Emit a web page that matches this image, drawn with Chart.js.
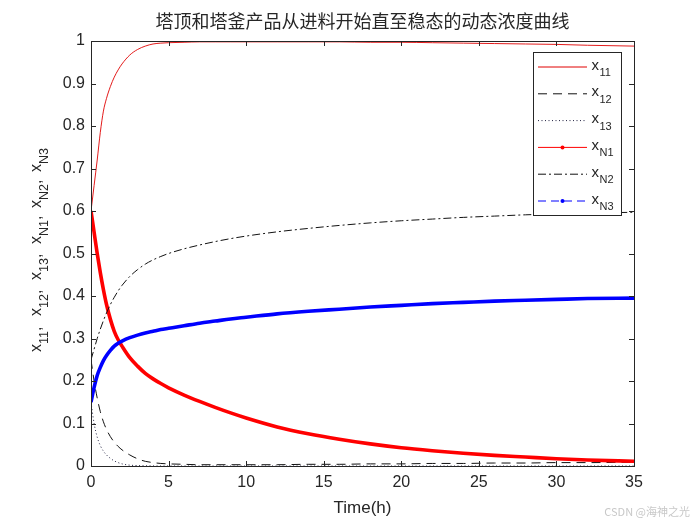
<!DOCTYPE html>
<html>
<head>
<meta charset="utf-8">
<script src="https://cdn.jsdelivr.net/npm/chart.js@4.4.1/dist/chart.umd.min.js"></script>
<style>
  html, body { margin: 0; padding: 0; background: #fff; }
  #wrap { width: 700px; height: 525px; position: relative; }
</style>
</head>
<body>
<div id="wrap"><canvas id="conc-chart" width="700" height="525"></canvas></div>
<script>
  // time axis (hours) and concentrations
  const timeH = [0, 0.2, 0.4, 0.6, 0.8, 1, 1.25, 1.5, 1.75, 2, 2.5, 3, 3.5, 4, 4.5, 5,
    6, 7, 8, 9, 10, 12, 14, 16, 18, 20, 22, 24, 26, 28, 30, 32, 35];

  const x11 = [0.600, 0.660, 0.720, 0.785, 0.835, 0.865, 0.893, 0.915, 0.932, 0.946, 0.967,
    0.980, 0.988, 0.993, 0.995, 0.996, 0.997, 0.998, 0.998, 0.998, 0.998, 0.998, 0.998,
    0.998, 0.997, 0.997, 0.996, 0.995, 0.994, 0.993, 0.992, 0.990, 0.988];
  const x12 = [0.250, 0.200, 0.160, 0.128, 0.104, 0.086, 0.069, 0.056, 0.046, 0.038, 0.026,
    0.017, 0.011, 0.008, 0.006, 0.005, 0.004, 0.003, 0.003, 0.003, 0.003, 0.003, 0.004,
    0.004, 0.005, 0.005, 0.006, 0.006, 0.007, 0.007, 0.008, 0.008, 0.009];
  const x13 = [0.150, 0.100, 0.068, 0.048, 0.035, 0.026, 0.018, 0.012, 0.008, 0.005, 0.002,
    0.001, 0.0005, 0.0002, 0.0001, 0, 0, 0, 0, 0, 0, 0, 0, 0, 0, 0, 0, 0, 0, 0, 0, 0, 0];
  const xN1 = [0.600, 0.550, 0.500, 0.455, 0.415, 0.380, 0.345, 0.317, 0.297, 0.282, 0.255,
    0.235, 0.218, 0.205, 0.194, 0.184, 0.167, 0.152, 0.138, 0.125, 0.113, 0.092, 0.076,
    0.063, 0.052, 0.043, 0.036, 0.030, 0.025, 0.021, 0.017, 0.014, 0.011];
  const xN2 = [0.250, 0.275, 0.300, 0.322, 0.342, 0.360, 0.380, 0.397, 0.412, 0.425, 0.446,
    0.462, 0.475, 0.485, 0.493, 0.500, 0.511, 0.520, 0.528, 0.535, 0.541, 0.551, 0.559,
    0.566, 0.572, 0.577, 0.581, 0.585, 0.588, 0.591, 0.593, 0.595, 0.597];
  const xN3 = [0.150, 0.185, 0.213, 0.232, 0.248, 0.260, 0.272, 0.282, 0.289, 0.294, 0.302,
    0.308, 0.313, 0.317, 0.321, 0.324, 0.330, 0.336, 0.341, 0.346, 0.350, 0.358, 0.364,
    0.369, 0.374, 0.378, 0.382, 0.385, 0.388, 0.390, 0.392, 0.394, 0.395];

  // legend / axis label pieces: [main, subscript]
  const seriesLabels = [["x", "11"], ["x", "12"], ["x", "13"], ["x", "N1"], ["x", "N2"], ["x", "N3"]];
  const chartTitle = "塔顶和塔釜产品从进料开始直至稳态的动态浓度曲线";
  const xAxisTitle = "Time(h)";
  const watermark = "CSDN @海神之光";

  const axisColor = "#262626";
  const latin = "'Liberation Sans', Arial, sans-serif";

  const toPoints = (ys) => timeH.map((t, i) => ({ x: t, y: ys[i] }));

  // style per series, also used by the hand drawn legend
  const styles = [
    { color: "#e00000", width: 0.9, dash: [], legendDash: [], dot: false },
    { color: "#111111", width: 1, dash: [9, 6], legendDash: [9, 6], dot: false },
    { color: "#202040", width: 1, dash: [1, 2.5], legendDash: [1, 2.5], dot: false },
    { color: "#ff0000", width: 3.6, dash: [], legendDash: [], dot: true },
    { color: "#111111", width: 1, dash: [8, 3, 2, 3], legendDash: [8, 3, 2, 3], dot: false },
    { color: "#0000ff", width: 3.6, dash: [], legendDash: [8, 5], dot: true },
  ];
  const seriesData = [x11, x12, x13, xN1, xN2, xN3];

  const datasets = seriesData.map((ys, i) => ({
    label: seriesLabels[i].join(""),
    data: toPoints(ys),
    borderColor: styles[i].color,
    backgroundColor: styles[i].color,
    borderWidth: styles[i].width,
    borderDash: styles[i].dash,
    pointRadius: 0,
    cubicInterpolationMode: "monotone",
    order: 5 - i,
  }));

  // inward ticks on all four sides + closed box, like a matlab axes
  const boxPlugin = {
    id: "boxTicks",
    afterDatasetsDraw(chart) {
      const { ctx, chartArea: a, scales } = chart;
      ctx.save();
      ctx.strokeStyle = axisColor;
      ctx.lineWidth = 1;
      ctx.setLineDash([]);
      ctx.beginPath();
      ctx.rect(Math.round(a.left) + 0.5, Math.round(a.top) + 0.5,
        Math.round(a.right - a.left), Math.round(a.bottom - a.top));
      const len = 5;
      scales.x.ticks.forEach((t) => {
        const px = Math.round(scales.x.getPixelForValue(t.value)) + 0.5;
        ctx.moveTo(px, a.bottom); ctx.lineTo(px, a.bottom - len);
        ctx.moveTo(px, a.top); ctx.lineTo(px, a.top + len);
      });
      scales.y.ticks.forEach((t) => {
        const py = Math.round(scales.y.getPixelForValue(t.value)) + 0.5;
        ctx.moveTo(a.left, py); ctx.lineTo(a.left + len, py);
        ctx.moveTo(a.right, py); ctx.lineTo(a.right - len, py);
      });
      ctx.stroke();
      ctx.restore();
    },
  };

  const legendPlugin = {
    id: "insideLegend",
    afterDraw(chart) {
      const { ctx } = chart;
      const box = { x: 533.5, y: 52.5, w: 88, h: 163 };
      ctx.save();
      ctx.fillStyle = "#fff";
      ctx.strokeStyle = axisColor;
      ctx.lineWidth = 1;
      ctx.fillRect(box.x, box.y, box.w, box.h);
      ctx.strokeRect(box.x, box.y, box.w, box.h);

      seriesLabels.forEach((lab, i) => {
        const st = styles[i];
        const ly = 67 + i * 26.8;
        ctx.strokeStyle = st.color;
        ctx.lineWidth = 1;
        ctx.setLineDash(st.legendDash);
        ctx.beginPath();
        ctx.moveTo(538, ly);
        ctx.lineTo(587, ly);
        ctx.stroke();
        ctx.setLineDash([]);
        if (st.dot) {
          ctx.fillStyle = st.color;
          ctx.beginPath();
          ctx.arc(562.5, ly, 2, 0, Math.PI * 2);
          ctx.fill();
        }
        ctx.fillStyle = axisColor;
        ctx.textBaseline = "alphabetic";
        ctx.textAlign = "left";
        ctx.font = "15px " + latin;
        ctx.fillText(lab[0], 591.5, ly + 2.5);
        const w = ctx.measureText(lab[0]).width;
        ctx.font = "11px " + latin;
        ctx.fillText(lab[1], 591.5 + w + 0.5, ly + 9);
      });
      ctx.restore();
    },
  };

  const yLabelPlugin = {
    id: "yLabel",
    afterDraw(chart) {
      const { ctx } = chart;
      ctx.save();
      ctx.translate(40.5, 352);
      ctx.rotate(-Math.PI / 2);
      ctx.fillStyle = axisColor;
      ctx.textBaseline = "alphabetic";
      ctx.textAlign = "left";
      seriesLabels.forEach((lab, i) => {
        let pos = i * 36;
        ctx.font = "16px " + latin;
        ctx.fillText(lab[0], pos, 0);
        pos += ctx.measureText(lab[0]).width;
        ctx.font = "12.5px " + latin;
        ctx.fillText(lab[1], pos, 7);
        pos += ctx.measureText(lab[1]).width;
        if (i < seriesLabels.length - 1) {
          ctx.font = "16px " + latin;
          ctx.fillText(",", pos, 0);
        }
      });
      ctx.restore();

      ctx.save();
      ctx.fillStyle = "#c8c8c8";
      ctx.font = "11px 'Noto Sans CJK SC', sans-serif";
      ctx.textAlign = "right";
      ctx.textBaseline = "middle";
      ctx.fillText(watermark, 690, 512);
      ctx.restore();
    },
  };

  new Chart(document.getElementById("conc-chart").getContext("2d"), {
    type: "line",
    data: { datasets },
    options: {
      responsive: false,
      animation: false,
      devicePixelRatio: 1,
      layout: { padding: { left: 0, right: 66, top: 0, bottom: 0 } },
      plugins: {
        legend: { display: false },
        tooltip: { enabled: false },
        title: {
          display: true,
          // not full width, so the title centres over the plot box
          fullSize: false,
          text: chartTitle,
          color: axisColor,
          font: { family: "'Noto Sans CJK SC', sans-serif", size: 18, weight: "normal", lineHeight: 1.2 },
          padding: { top: 10, bottom: 9.4 },
        },
      },
      scales: {
        x: {
          type: "linear",
          min: 0,
          max: 35,
          ticks: {
            stepSize: 5,
            color: axisColor,
            font: { family: latin, size: 16 },
            padding: 7,
            maxRotation: 0,
          },
          grid: { display: false, drawTicks: false },
          border: { display: true, color: axisColor, width: 1 },
          title: {
            display: true,
            text: xAxisTitle,
            color: axisColor,
            font: { family: latin, size: 17, lineHeight: 1.2 },
            padding: { top: 0, bottom: 6 },
          },
          afterFit(scale) { scale.height = 59; },
        },
        y: {
          min: 0,
          max: 1,
          ticks: {
            stepSize: 0.1,
            color: axisColor,
            font: { family: latin, size: 16 },
            padding: 6,
            callback: (v) => String(Math.round(v * 10) / 10),
          },
          grid: { display: false, drawTicks: false },
          border: { display: true, color: axisColor, width: 1 },
          afterFit(scale) { scale.width = 91; },
        },
      },
    },
    plugins: [boxPlugin, legendPlugin, yLabelPlugin],
  });
</script>
</body>
</html>
